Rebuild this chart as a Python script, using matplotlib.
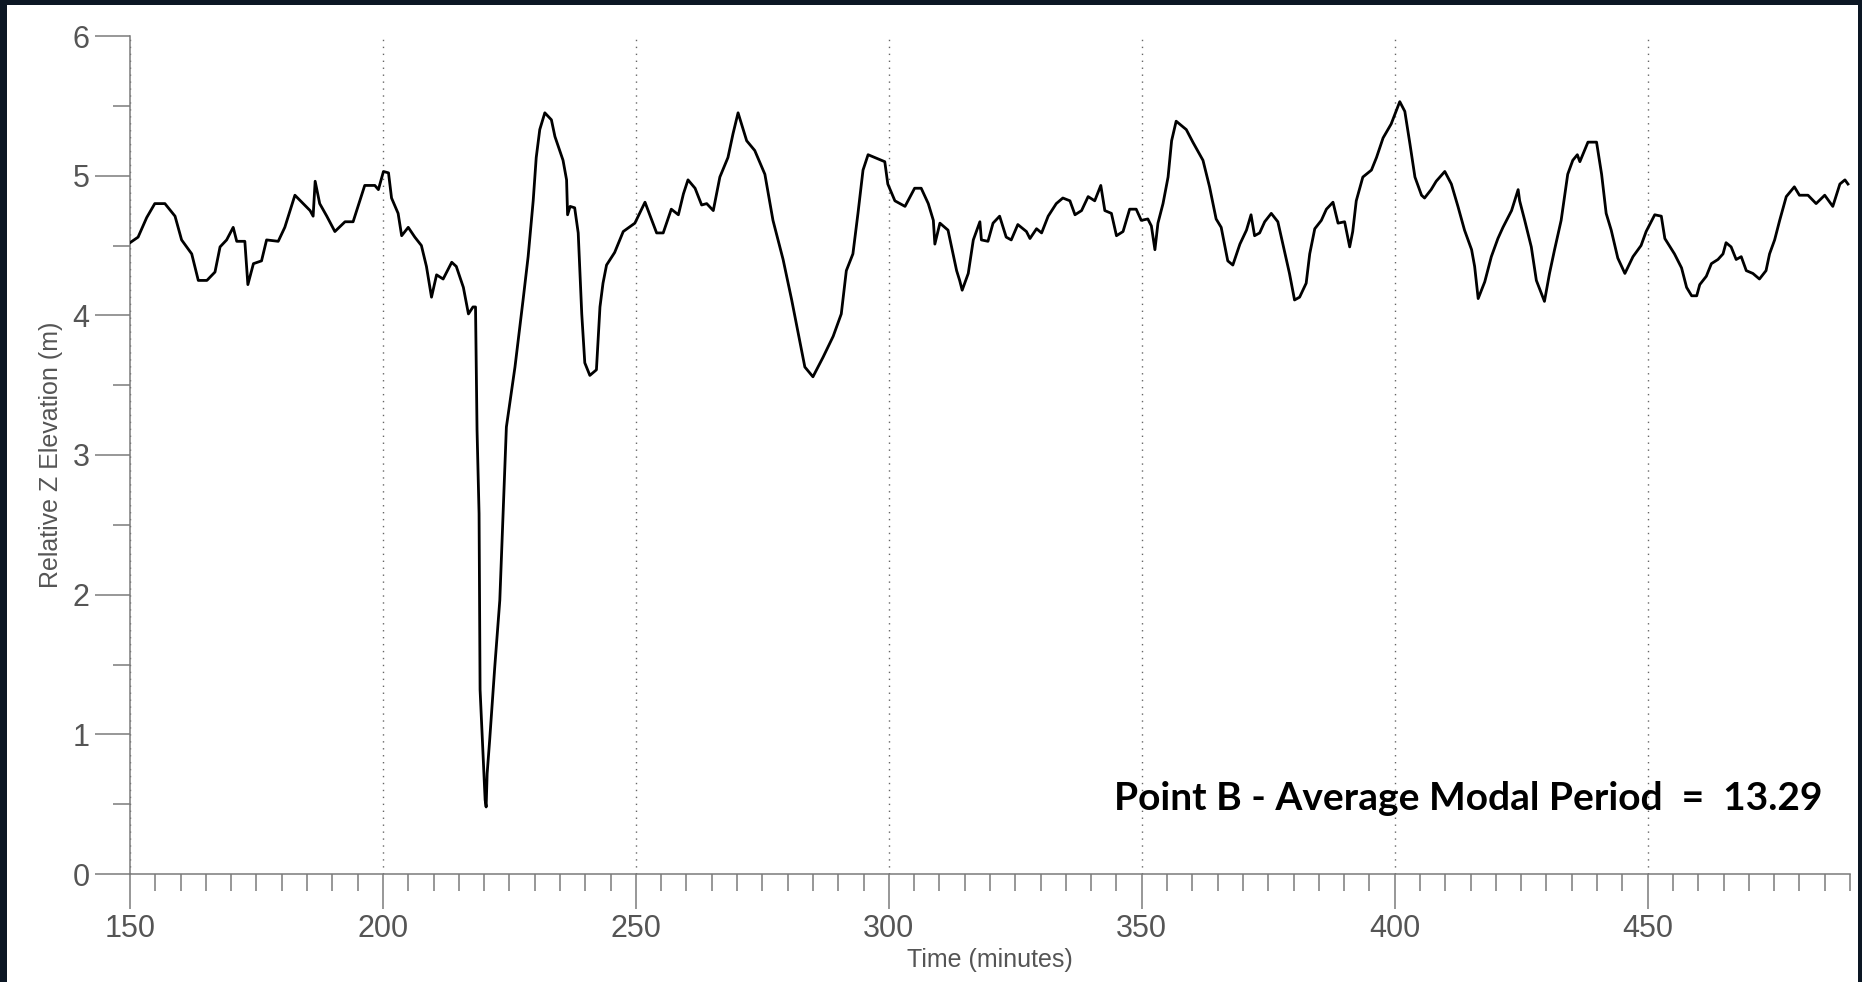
import matplotlib
matplotlib.use('Agg')
import matplotlib.pyplot as plt
from matplotlib.patches import Rectangle
from matplotlib.ticker import MultipleLocator

# time (minutes) and relative elevation (m)
time_min = [
    150.0, 151.6, 153.3, 154.9, 156.9, 158.9, 160.2, 162.2, 163.5, 165.2,
    166.8, 167.8, 169.1, 170.4, 171.1, 172.7, 173.3, 174.4, 176.0, 177.0,
    179.3, 180.6, 182.6, 185.6, 186.2, 186.6, 187.5, 188.9, 190.5, 192.5,
    194.1, 196.4, 198.4, 199.1, 200.1, 201.1, 201.7, 203.0, 203.7, 205.0,
    206.3, 207.6, 208.6, 209.6, 210.6, 211.9, 213.6, 214.5, 215.9, 216.9,
    217.8, 218.3, 218.4, 218.6, 219.0, 219.2, 220.2, 220.4, 220.6, 221.1,
    222.1, 223.1, 224.4, 226.1, 227.7, 228.7, 229.7, 230.3, 231.0, 232.0,
    233.3, 234.0, 235.6, 236.3, 236.5, 237.0, 237.9, 238.6, 239.3, 239.9,
    240.9, 242.2, 242.9, 243.5, 244.2, 245.8, 247.5, 249.8, 251.8, 254.1,
    255.4, 257.0, 258.4, 259.4, 260.3, 261.7, 263.0, 264.0, 265.3, 266.6,
    268.2, 269.2, 270.2, 271.9, 273.5, 275.5, 277.1, 279.1, 280.8, 282.1,
    283.4, 285.0, 287.0, 289.0, 290.6, 291.6, 292.9, 293.9, 294.9, 295.9,
    299.2, 299.8, 301.2, 303.2, 305.1, 306.4, 307.8, 308.8, 309.1, 310.1,
    311.7, 313.4, 314.0, 314.5, 315.7, 316.7, 318.0, 318.3, 319.6, 320.6,
    321.9, 323.2, 324.2, 325.5, 327.2, 327.9, 329.2, 330.2, 331.5, 333.1,
    334.4, 335.8, 336.8, 338.1, 339.4, 340.7, 341.9, 342.7, 344.0, 345.0,
    346.3, 347.6, 348.9, 349.9, 351.2, 351.9, 352.6, 353.2, 354.2, 355.2,
    355.9, 356.8, 358.8, 360.1, 362.1, 363.4, 364.7, 365.7, 367.0, 368.0,
    369.4, 370.7, 371.6, 372.3, 373.3, 374.3, 375.6, 376.9, 377.9, 379.2,
    380.2, 381.2, 382.5, 383.2, 384.2, 385.5, 386.5, 387.8, 388.8, 390.1,
    391.1, 391.7, 392.4, 393.7, 395.4, 396.4, 397.7, 399.3, 401.0, 402.0,
    403.0, 404.0, 405.3, 405.9, 407.2, 408.2, 409.9, 411.2, 412.5, 413.8,
    415.2, 415.8, 416.5, 417.8, 419.1, 420.4, 421.4, 423.1, 424.4, 424.7,
    425.7, 427.0, 428.0, 429.6, 430.6, 431.6, 432.9, 434.2, 435.2, 436.1,
    436.6, 438.2, 439.9, 440.9, 441.8, 442.8, 444.1, 445.5, 447.1, 448.7,
    449.7, 451.4, 452.7, 453.4, 455.3, 456.7, 457.7, 458.7, 459.7, 460.3,
    461.6, 462.6, 463.9, 464.9, 465.5, 466.5, 467.5, 468.5, 469.5, 470.8,
    472.1, 473.4, 474.1, 475.1, 476.1, 477.4, 479.0, 480.0, 481.7, 483.3,
    485.0, 486.6, 488.0, 489.0, 489.6,
]
elevation_m = [
    4.52, 4.56, 4.70, 4.80, 4.80, 4.71, 4.54, 4.44, 4.25, 4.25,
    4.31, 4.49, 4.54, 4.63, 4.53, 4.53, 4.22, 4.37, 4.39, 4.54,
    4.53, 4.63, 4.86, 4.75, 4.71, 4.96, 4.80, 4.71, 4.60, 4.67,
    4.67, 4.93, 4.93, 4.90, 5.03, 5.02, 4.84, 4.73, 4.57, 4.63,
    4.56, 4.50, 4.35, 4.13, 4.29, 4.26, 4.38, 4.35, 4.20, 4.01,
    4.06, 4.06, 3.77, 3.18, 2.58, 1.32, 0.53, 0.48, 0.72, 0.96,
    1.48, 1.96, 3.20, 3.63, 4.11, 4.42, 4.82, 5.13, 5.33, 5.45,
    5.40, 5.28, 5.11, 4.97, 4.72, 4.78, 4.77, 4.59, 4.01, 3.66,
    3.57, 3.61, 4.06, 4.23, 4.36, 4.45, 4.60, 4.66, 4.81, 4.59,
    4.59, 4.76, 4.72, 4.87, 4.97, 4.91, 4.79, 4.80, 4.75, 4.99,
    5.13, 5.30, 5.45, 5.25, 5.18, 5.01, 4.68, 4.40, 4.11, 3.87,
    3.63, 3.56, 3.70, 3.85, 4.01, 4.32, 4.44, 4.73, 5.04, 5.15,
    5.10, 4.94, 4.82, 4.78, 4.91, 4.91, 4.80, 4.68, 4.51, 4.66,
    4.61, 4.32, 4.25, 4.18, 4.30, 4.54, 4.67, 4.54, 4.53, 4.66,
    4.71, 4.56, 4.54, 4.65, 4.60, 4.55, 4.62, 4.59, 4.71, 4.80,
    4.84, 4.82, 4.72, 4.75, 4.85, 4.82, 4.93, 4.75, 4.73, 4.57,
    4.60, 4.76, 4.76, 4.68, 4.69, 4.64, 4.47, 4.66, 4.80, 4.99,
    5.25, 5.39, 5.33, 5.24, 5.11, 4.92, 4.69, 4.63, 4.39, 4.36,
    4.51, 4.61, 4.72, 4.57, 4.59, 4.67, 4.73, 4.67, 4.51, 4.30,
    4.11, 4.13, 4.23, 4.44, 4.62, 4.68, 4.76, 4.81, 4.66, 4.67,
    4.49, 4.60, 4.82, 4.99, 5.04, 5.13, 5.27, 5.37, 5.53, 5.46,
    5.23, 4.99, 4.86, 4.84, 4.90, 4.96, 5.03, 4.94, 4.78, 4.61,
    4.47, 4.35, 4.12, 4.24, 4.42, 4.55, 4.63, 4.75, 4.90, 4.82,
    4.68, 4.49, 4.25, 4.10, 4.30, 4.47, 4.68, 5.01, 5.11, 5.15,
    5.10, 5.24, 5.24, 5.01, 4.73, 4.61, 4.41, 4.30, 4.42, 4.50,
    4.60, 4.72, 4.71, 4.55, 4.44, 4.34, 4.20, 4.14, 4.14, 4.22,
    4.28, 4.37, 4.40, 4.44, 4.52, 4.49, 4.40, 4.42, 4.32, 4.30,
    4.26, 4.32, 4.44, 4.54, 4.68, 4.85, 4.92, 4.86, 4.86, 4.80,
    4.86, 4.78, 4.94, 4.97, 4.94,
]

annotation = 'Point B - Average Modal Period  =  13.29'

axis_grey = '#7a7a7a'
label_grey = '#555555'

fig = plt.figure(figsize=(18.62, 9.82), dpi=100)
fig.patch.set_facecolor('#0c1724')
# white panel inside the dark frame
fig.patches.append(Rectangle((7 / 1862, 0), (1858 - 7) / 1862, (982 - 5) / 982,
                             transform=fig.transFigure, facecolor='white',
                             edgecolor='none', zorder=-10))

ax = fig.add_axes([130 / 1862, (982 - 874) / 982, (1850 - 130) / 1862, (874 - 36) / 982])
ax.set_facecolor('none')

ax.plot(time_min, elevation_m, color='black', linewidth=2.0, zorder=3)

ax.set_xlim(150, 490)
ax.set_ylim(0, 6)
ax.xaxis.set_major_locator(MultipleLocator(50))
ax.xaxis.set_minor_locator(MultipleLocator(5))
ax.yaxis.set_major_locator(MultipleLocator(1))
ax.yaxis.set_minor_locator(MultipleLocator(0.5))

for side in ['top', 'right']:
    ax.spines[side].set_visible(False)
for side in ['left', 'bottom']:
    ax.spines[side].set_color(axis_grey)
    ax.spines[side].set_linewidth(1.1)

ax.tick_params(which='major', direction='out', length=25, width=1.1, color=axis_grey,
               labelcolor=label_grey, labelsize=22, pad=4)
ax.tick_params(which='minor', direction='out', length=12, width=1.1, color=axis_grey)
for lbl in ax.get_xticklabels() + ax.get_yticklabels():
    lbl.set_fontfamily('Liberation Sans')

ax.grid(axis='x', which='major', linestyle=(0, (1, 4)), color='#666666', linewidth=1.0)

ax.set_xlabel('Time (minutes)', fontsize=18, color=label_grey, family='Liberation Sans', labelpad=3)
ax.set_ylabel('Relative Z Elevation (m)', fontsize=18, color=label_grey, family='Liberation Sans', labelpad=7)

fig.text(1823 / 1862, (982 - 798) / 982, annotation, ha='right', va='center',
         fontsize=28, fontweight='bold', family='Lato', color='black')

fig.savefig('out.png', dpi=100, facecolor=fig.get_facecolor())
